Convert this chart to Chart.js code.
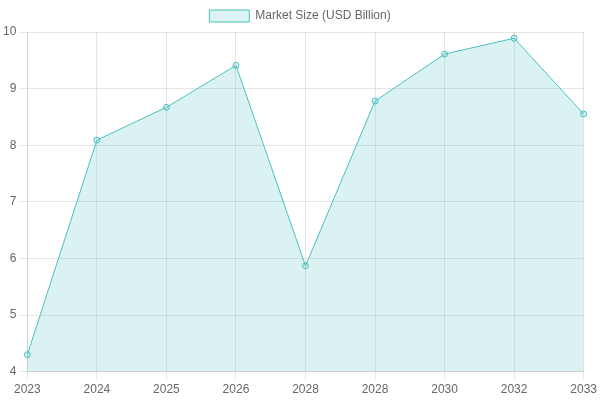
<!DOCTYPE html>
<html>
<head>
<meta charset="utf-8">
<script src="https://cdn.jsdelivr.net/npm/chart.js@4"></script>
<style>
  html, body { margin: 0; padding: 0; background: #fff; }
  #wrap { width: 600px; height: 400px; }
</style>
</head>
<body>
<div id="wrap"><canvas id="chart"></canvas></div>
<script>
// chart data
const years = ['2023', '2024', '2025', '2026', '2028', '2028', '2030', '2032', '2033'];
const marketSize = [4.3, 8.09, 8.67, 9.41, 5.87, 8.78, 9.61, 9.89, 8.55];

const ctx = document.getElementById('chart').getContext('2d');
new Chart(ctx, {
  type: 'line',
  data: {
    labels: years,
    datasets: [{
      label: 'Market Size (USD Billion)',
      data: marketSize,
      borderColor: 'rgb(75, 192, 192)',
      backgroundColor: 'rgba(75, 192, 192, 0.2)',
      borderWidth: 1,
      pointRadius: 3,
      fill: true,
      tension: 0
    }]
  },
  options: {
    responsive: true,
    maintainAspectRatio: false,
    animation: false,
    scales: {
      y: { min: 4, max: 10, ticks: { stepSize: 1 } }
    }
  }
});
</script>
</body>
</html>
